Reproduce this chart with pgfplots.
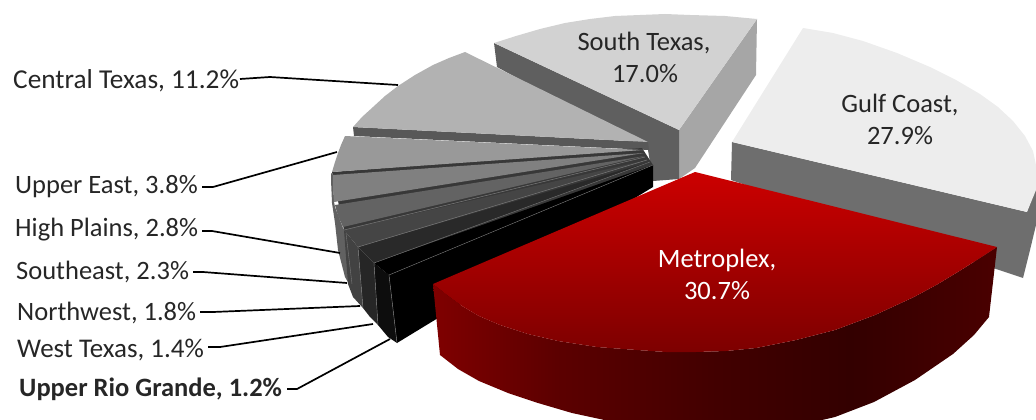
\documentclass[border=0pt]{standalone}
\usepackage{pgfplots}
\pgfplotsset{compat=1.18}
\usepackage{fontspec}
\setmainfont{Carlito}
\pgfdeclarehorizontalshading{redside}{100bp}{
  rgb(0bp)=(0.50,0,0);
  rgb(25bp)=(0.50,0,0);
  rgb(36bp)=(0.36,0,0);
  rgb(50bp)=(0.26,0,0);
  rgb(62bp)=(0.20,0,0);
  rgb(75bp)=(0.29,0,0);
  rgb(100bp)=(0.29,0,0)}
\definecolor{redTop}{rgb}{0.80,0,0}
\definecolor{redLow}{rgb}{0.49,0,0}
\definecolor{gulfTop}{HTML}{EDEDED}
\definecolor{gulfSide}{HTML}{6E6E6E}
\definecolor{southTop}{HTML}{D2D2D2}
\definecolor{southDark}{HTML}{5F5F5F}
\definecolor{southLight}{HTML}{A6A6A6}
\definecolor{centralTop}{HTML}{B2B2B2}
\definecolor{centralCut}{HTML}{585858}
\definecolor{edge}{HTML}{7A7A7A}
\definecolor{labtext}{HTML}{262626}
\begin{document}
\begin{tikzpicture}
\useasboundingbox (0,0) rectangle (1036pt,420pt);
\begin{axis}[
  scale only axis, width=1036pt, height=420pt,
  xmin=0, xmax=1036, ymin=0, ymax=420, y dir=reverse,
  hide axis, no marks, clip=true,
  every axis plot/.append style={line join=round},
]
% Gulf Coast
\addplot[fill=gulfSide,draw=none] coordinates {(732,142)(731,180)(1023,278)(1030,250)(1036,225)(1036,177)(1027,212)} --cycle;
\addplot[fill=gulfTop,draw=none] coordinates {(803,28)(833,33)(863,41)(897,53)(930,67)(956,80)(980,94)(998,107)(1013,121)(1025,136)(1033,151)(1036,165)(1036,190)(1027,212)(732,142)} --cycle;
% South Texas
\addplot[fill=southLight,draw=none] coordinates {(757,19)(756,75)(695,168)(679,179)(679,130)} --cycle;
\addplot[fill=southDark,draw=none] coordinates {(494,43)(679,130)(679,179)(653,181)(648,150)(497,67)} --cycle;
\addplot[fill=southTop,draw=none] coordinates {(494,43)(516,36)(540,29)(565,23)(590,19)(615,16)(640,15)(665,14)(690,15)(725,16)(757,19)(679,130)} --cycle;
% Central Texas
\addplot[fill=centralCut,draw=none] coordinates {(353,127)(648,142)(649,150)(354,136)} --cycle;
\addplot[fill=centralTop,draw=none] coordinates {(353,127)(362,117)(373,107)(385,96)(398,86)(415,75)(433,65)(449,58)(465,52)(648,142)} --cycle;
% Dark backing under the thin cuts between the small slices
\addplot[fill=black!78,draw=none] coordinates {(332,172)(642,148)(653,165)(389,275)(344,230)} --cycle;
% Outer rims of the small slices
\addplot[fill=black!62,draw=none] coordinates {(331,173)(331,180)(332,203)(335,223)(338,250)(345,277)(349,284)(346,233)(343,228)(335,207)(334,202)(333,175)} --cycle;
\addplot[fill=black!74,draw=none] coordinates {(344,230)(358,247)(363,308)(353,297)(348,284)} --cycle;
\addplot[fill=black!85,draw=none] coordinates {(358,247)(374,263)(378,325)(370,317)(363,308)} --cycle;
\addplot[fill=black!95,draw=none] coordinates {(374,263)(389,275)(397,343)(388,337)(378,325)} --cycle;
% Upper East
\addplot[fill=black!40,draw=none] coordinates {(345,136)(341,145)(338,153)(335,162)(332,172)(643,150)} --cycle;
% High Plains
\addplot[fill=black!50,draw=none] coordinates {(333,175)(333,188)(334,202)(644,153)} --cycle;
% Southeast
\addplot[fill=black!61,draw=none] coordinates {(335,205)(338,216)(343,227)(645,156)} --cycle;
% Northwest
\addplot[fill=black!73,draw=none] coordinates {(344,230)(358,247)(647,160)} --cycle;
% West Texas
\addplot[fill=black!84,draw=none] coordinates {(358,247)(374,263)(650,162)} --cycle;
% Upper Rio Grande
\addplot[fill=black,draw=none] coordinates {(374,263)(389,275)(653,165)} --cycle;
\addplot[fill=black,draw=none] coordinates {(389,275)(653,165)(653,187)(397,343)} --cycle;
% Hairlines along the cut faces
\addplot[edge,line width=0.5pt] coordinates {(344,230)(645,157)};
\addplot[edge,line width=0.5pt] coordinates {(358,247)(647,160)};
\addplot[edge,line width=0.4pt] coordinates {(374,263)(650,162)};
\addplot[edge,line width=0.4pt] coordinates {(389,275)(653,165)};
\addplot[edge,line width=0.4pt] coordinates {(346,233)(352,284)};
\addplot[edge,line width=0.4pt] coordinates {(358,247)(363,308)};
\addplot[edge,line width=0.4pt] coordinates {(374,263)(378,325)};
\addplot[edge,line width=0.4pt] coordinates {(389,275)(397,343)};
% Metroplex
\addplot[draw=none,shading=redside] coordinates {(433,284)(447,295)(462,306)(479,316)(500,325)(528,334)(558,341)(597,347)(637,350)(666,352)(696,352)(726,351)(756,348)(796,340)(835,330)(875,315)(914,297)(938,284)(961,270)(980,258)(997,247)(989,317)(974,335)(953,354)(915,380)(874,402)(835,417)(805,424)(770,428)(715,431)(660,428)(609,421)(572,413)(538,403)(508,393)(479,381)(458,369)(440,355)} --cycle;
\addplot[draw=none,top color=redTop,bottom color=redLow] coordinates {(695,172)(997,247)(980,258)(961,270)(938,284)(914,297)(875,315)(835,330)(796,340)(756,348)(726,351)(696,352)(666,352)(637,350)(597,347)(558,341)(528,334)(500,325)(479,316)(462,306)(447,295)(433,284)} --cycle;
% Leader lines
\addplot[black,line width=1.7pt] coordinates {(240,79)(270,77)(398,85)};
\addplot[black,line width=1.7pt] coordinates {(202,187)(213,187)(337,152)};
\addplot[black,line width=1.7pt] coordinates {(202,231)(212,231)(340,253)};
\addplot[black,line width=1.7pt] coordinates {(193,272)(203,272)(347,283)};
\addplot[black,line width=1.7pt] coordinates {(200,312)(213,312)(360,306)};
\addplot[black,line width=1.7pt] coordinates {(208,347)(220,347)(373,324)};
\addplot[black,line width=1.7pt] coordinates {(287,389)(297,389)(390,339)};
% Labels
\def\lab{\fontsize{26.5}{26.5}\selectfont}
\tikzset{lb/.style={text=labtext,anchor=mid west,inner sep=0pt,font=\lab}, cl/.style={anchor=mid,inner sep=0pt,font=\lab}}
\node[lb,font=\fontsize{27.3}{27.3}\selectfont] at (axis cs:13,86) {Central Texas, 11.2\%};
\node[lb] at (axis cs:15,191) {Upper East, 3.8\%};
\node[lb] at (axis cs:15,234) {High Plains, 2.8\%};
\node[lb] at (axis cs:16,277) {Southeast, 2.3\%};
\node[lb] at (axis cs:17,318) {Northwest, 1.8\%};
\node[lb,font=\fontsize{27}{27}\selectfont] at (axis cs:17,355) {West Texas, 1.4\%};
\node[lb,font=\lab\bfseries] at (axis cs:19,394) {Upper Rio Grande, 1.2\%};
\node[cl,text=labtext] at (axis cs:644,48) {South Texas,};
\node[cl,text=labtext] at (axis cs:645,80) {17.0\%};
\node[cl,text=labtext] at (axis cs:900,110) {Gulf Coast,};
\node[cl,text=labtext] at (axis cs:900,142) {27.9\%};
\node[cl,text=white] at (axis cs:717,265) {Metroplex,};
\node[cl,text=white] at (axis cs:717,297) {30.7\%};
\end{axis}
\end{tikzpicture}
\end{document}
